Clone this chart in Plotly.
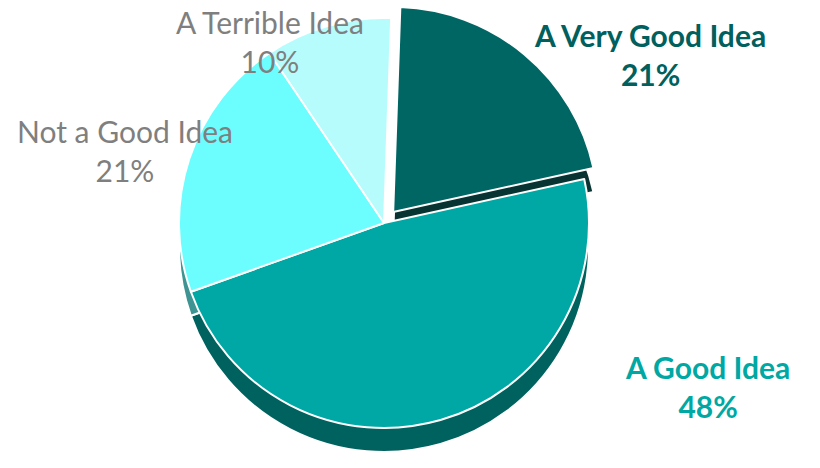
import plotly.graph_objects as go

labels = ["A Very Good Idea", "A Good Idea", "Not a Good Idea", "A Terrible Idea"]
values = [21, 48, 21, 10]

top_colors = ["#006664", "#00A8A5", "#6CFEFE", "#B6FCFC"]
side_colors = ["#073332", "#00625F", "#3E9492", "#7FCFCF"]
label_colors = ["#00605E", "#00A8A3", "#7F7F7F", "#7F7F7F"]
label_bold = [True, True, False, False]
pulls = [0.07, 0, 0, 0]

W, H = 820, 468
cx, cy = 384, 223          # pie centre (px from top-left)
r = 205                     # pie radius px
depth = 24                  # extrusion depth px
half = r * (1 + max(pulls))

def dom(cx, cy):
    return dict(x=[(cx - half) / W, (cx + half) / W],
                y=[max(0, (H - cy - half) / H), min(1, (H - cy + half) / H)])

fig = go.Figure()
# side (depth) layer
fig.add_trace(go.Pie(
    labels=labels, values=values, sort=False, direction="clockwise", rotation=2,
    pull=pulls, marker=dict(colors=side_colors, line=dict(color="white", width=2)),
    textinfo="none", hoverinfo="skip", domain=dom(cx, cy + depth), showlegend=False,
))
# top face
fig.add_trace(go.Pie(
    labels=labels, values=values, sort=False, direction="clockwise", rotation=2,
    pull=pulls, marker=dict(colors=top_colors, line=dict(color="white", width=2)),
    textinfo="none", domain=dom(cx, cy), showlegend=False,
))

total = sum(values)
label_pos = [(650, 54), (707, 386), (125, 150), (270, 41)]
annotations = []
for lab, v, col, b, (x, y) in zip(labels, values, label_colors, label_bold, label_pos):
    pct = f"{round(100 * v / total)}%"
    txt = f"<b>{lab}</b><br><b>{pct}</b>" if b else f"{lab}<br>{pct}"
    annotations.append(dict(
        text=txt, x=x / W, y=1 - y / H, xref="paper", yref="paper",
        showarrow=False, xanchor="center", yanchor="middle", align="center",
        font=dict(family="Lato, Open Sans, sans-serif", size=30, color=col),
    ))

fig.update_layout(
    width=W, height=H, margin=dict(l=0, r=0, t=0, b=0),
    paper_bgcolor="white", plot_bgcolor="white",
    annotations=annotations, showlegend=False,
)
fig.write_html("out.html")
